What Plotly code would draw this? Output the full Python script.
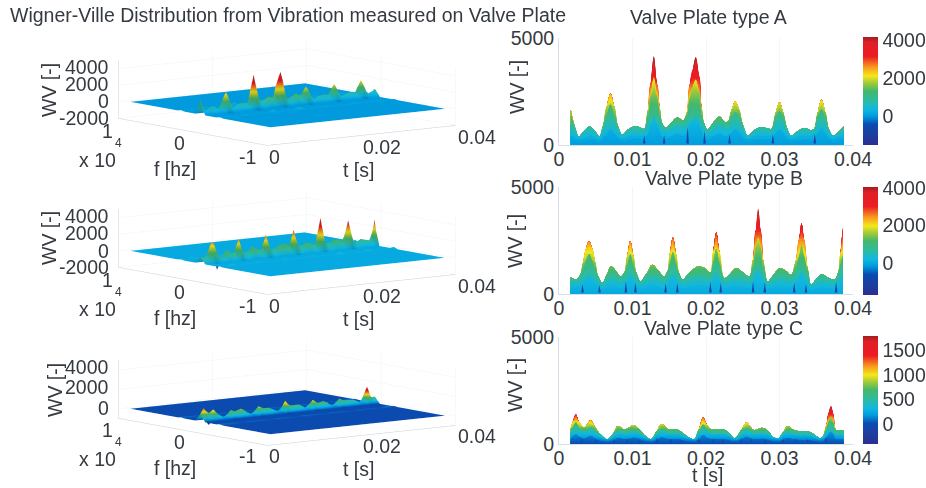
import plotly.graph_objects as go
from plotly.colors import sample_colorscale

W, H = 926, 488
FONT = "Liberation Sans"
INK = "#343a40"
FS = 19.5

JET = [[0.0, "#2b2f8f"], [0.1, "#1c3fa0"], [0.19, "#0a4cb0"], [0.27, "#009ede"], [0.33, "#10b7e0"],
       [0.41, "#2dbba2"], [0.5, "#45b86a"], [0.57, "#9cc93c"], [0.64, "#f6e71a"], [0.72, "#f79a1e"],
       [0.82, "#ec1c24"], [0.95, "#e01f26"], [1.0, "#9e1f20"]]

# time grids in ms, values in WV
A_t = [1.6,2.1,2.7,3.4,4.1,4.8,5.5,6.0,6.5,7.0,7.5,8.0,8.6,9.4,10.2,11.0,11.6,12.1,12.5,12.9,13.3,13.7,14.0,14.5,15.3,16.1,16.9,17.4,17.8,18.2,18.6,19.0,19.4,19.7,20.2,21.0,21.8,22.6,23.0,23.5,24.0,24.5,25.0,25.7,26.6,27.5,28.3,28.9,29.5,30.0,30.5,31.0,31.6,32.5,33.4,34.2,34.7,35.2,35.7,36.2,36.7,37.3,38.0,38.7]
A_outer = [1650,900,400,650,870,700,400,900,1800,2400,1800,900,480,720,870,830,750,1600,2900,4150,2900,1700,1050,800,1050,1300,1150,1500,2800,3500,4100,3300,1700,1050,720,1050,1330,1080,1100,1650,2030,1650,950,430,700,840,780,750,1500,2000,1500,800,430,650,790,700,750,1500,2110,1550,750,430,600,870]
A_mid = [1000,500,250,350,500,400,250,650,1350,1880,1350,650,300,450,550,520,500,1100,2300,3170,2300,1300,800,600,800,1000,850,1200,2200,2700,3050,2500,1350,800,480,750,1000,800,800,1250,1550,1250,700,280,450,550,500,500,1150,1570,1150,550,280,420,520,450,500,1150,1650,1200,500,280,400,600]
A_low = [400,250,120,180,250,200,120,300,550,750,550,300,120,220,300,280,260,500,950,1300,950,600,380,280,400,520,420,600,1000,1150,1300,1050,620,380,220,380,520,400,400,600,750,600,320,120,220,280,250,250,550,750,550,250,120,200,260,220,250,550,780,560,250,120,180,300]
A_spike_t = [11.6,14.3,17.5,19.8,23.2,29.1,34.8]
A_spike_h = [450,450,850,650,500,520,550]
A_dip_t = [7.0,12.9,18.6,24.0,30.0,35.7]
A_dip_z = [-700,-1000,-1000,-700,-700,-800]

B_t = [1.6,2.3,2.9,3.3,3.7,4.1,4.5,4.9,5.3,5.9,6.5,7.05,7.7,8.4,8.9,9.3,9.7,10.1,10.5,11.1,11.9,12.7,13.5,14.3,14.8,15.1,15.5,15.9,16.3,16.8,17.6,18.4,18.9,19.8,20.6,21.0,21.4,21.8,22.5,23.3,24.1,24.9,25.9,26.4,26.8,27.1,27.4,27.8,28.4,29.2,30.0,30.8,31.6,32.2,32.7,33.0,33.3,33.8,34.3,35.0,35.7,36.5,37.5,38.0,38.3,38.6]
B_outer = [780,670,900,1500,2150,2480,2150,1500,850,510,900,1290,1100,820,1000,1800,2480,1800,1000,590,950,1370,1100,820,1100,1900,2640,1900,1000,670,950,1200,1290,1210,1000,2000,2890,2000,745,950,1210,1050,820,1600,3000,3980,3000,1500,590,900,1210,1100,900,1500,2600,3310,2600,1200,435,700,930,780,670,1000,1900,3100]
B_mid = [550,480,650,1050,1550,1860,1550,1050,600,330,600,850,720,560,720,1300,1850,1300,720,400,650,900,750,560,780,1400,1950,1400,720,450,650,820,860,820,700,1450,2100,1450,520,650,820,720,560,1150,2200,2650,2200,1050,400,620,820,750,620,1050,1800,2300,1800,850,300,480,630,530,450,700,1350,1800]
B_low = [300,280,350,500,700,850,700,500,300,180,280,420,350,260,350,600,850,600,350,200,320,450,360,260,370,650,900,650,350,220,320,400,420,400,340,650,950,650,260,320,400,350,270,550,1000,1150,1000,500,200,300,400,360,300,500,850,1050,850,420,150,230,310,260,220,340,650,850]
B_spike_t = [3.2,5.5,9.1,10.4,14.5,16.1,20.6,22.0,26.4,28.0,32.0,33.6,37.7]
B_spike_h = [450,420,580,520,500,520,580,520,580,550,520,450,580]
B_dip_t = [4.1,9.7,15.5,21.4,27.1,33.0]
B_dip_z = [-800,-800,-800,-900,-1000,-900]

C_t = [1.6,1.9,2.3,2.7,3.4,3.9,4.3,4.8,5.5,6.6,7.4,8.0,8.9,9.6,10.2,10.9,11.6,12.5,13.3,13.9,14.5,15.0,16.1,16.9,17.5,18.4,19.0,19.6,20.2,20.7,21.6,22.5,23.2,23.9,24.9,25.5,26.0,26.5,27.7,28.5,29.1,29.8,30.5,31.1,31.7,32.3,33.2,34.1,34.9,35.5,35.9,36.4,36.7,37.0,37.3,37.7,38.7]
C_outer = [730,1050,1380,1050,780,950,1120,850,500,220,500,840,680,780,885,700,420,220,600,930,800,680,680,500,340,220,650,1240,850,680,680,680,500,260,700,1010,820,650,760,600,340,260,550,840,700,620,600,575,400,260,340,900,1450,1770,1400,650,650]
C_mid = [500,750,1000,750,520,680,800,600,320,150,320,580,450,520,600,470,280,150,400,650,550,450,450,330,220,150,430,900,600,450,450,450,330,170,470,720,560,430,510,400,220,170,370,580,470,410,400,380,260,170,220,620,1050,1300,1000,430,430]
C_low = [250,350,450,350,250,320,380,280,150,70,150,280,220,250,290,230,130,70,190,300,260,220,220,160,110,70,210,420,280,220,220,220,160,80,230,340,270,210,250,190,110,80,180,280,230,200,190,180,130,80,110,300,480,600,470,210,210]
C_spike_t = [3.1,5.0,7.5,9.3,11.0,13.3,15.2,16.5,19.0,21.0,22.3,24.8,26.2,28.0,30.5,32.3,33.8,36.3]
C_spike_h = [280,220,250,260,200,280,260,220,280,260,240,280,260,220,270,240,230,300]
C_dip_t = [2.3,8.0,13.9,19.6,25.5,31.1]
C_dip_z = [-300,-200,-200,-200,-200,-200]

F_TICKS = [-10000, 0, 10000]
T_TICKS = [0, 0.02, 0.04]
Z_TICKS_3D = [[-2000, 0, 2000, 4000], [-2000, 0, 2000, 4000], [0, 2000, 4000]]
Z_RANGE_3D = [[-2000, 5000], [-2000, 5000], [-1000, 5000]]
C_RANGE = [[-1510, 4140], [-1710, 4050], [-413, 1790]]
CB_TICKS = [[0, 2000, 4000], [0, 2000, 4000], [0, 500, 1000, 1500]]
TITLES = ["Valve Plate type A", "Valve Plate type B", "Valve Plate type C"]
RIGHT_Y = [(38, 145), (187, 294), (337, 444)]
CB_Y = [(37, 145), (187, 295), (336, 444)]
TITLE_POS = [(708, 17), (724, 178), (723, 328)]
WV_POS = [(517, 87), (515, 241), (515, 385)]
F_EDGE = 9400

PANELS = [
    (A_t, A_outer, A_mid, A_low, A_spike_t, A_spike_h, A_dip_t, A_dip_z),
    (B_t, B_outer, B_mid, B_low, B_spike_t, B_spike_h, B_dip_t, B_dip_z),
    (C_t, C_outer, C_mid, C_low, C_spike_t, C_spike_h, C_dip_t, C_dip_z),
]

fig = go.Figure()
annotations = []


def px(x):
    return x / W


def py(y):
    return 1 - y / H


def label(text, x, y, size=FS, angle=0, anchor="center"):
    annotations.append(dict(text=text, x=px(x), y=py(y), xref="paper", yref="paper", showarrow=False,
                            font=dict(family=FONT, size=size, color=INK), textangle=angle,
                            xanchor=anchor, yanchor="middle", xshift=0, yshift=0))


def color_at(v, rng):
    u = min(1, max(0, (v - rng[0]) / (rng[1] - rng[0])))
    return sample_colorscale(JET, [u])[0]


def add_layer(t, values, factor, rng, step, xa, ya):
    top = max(values)
    n = int(top / step) + 1
    for k in range(n, 0, -1):
        lev = k * step
        fig.add_trace(go.Scatter(
            x=t, y=[min(v, lev) for v in values], mode="lines", fill="tozeroy",
            line=dict(width=0, shape="spline", smoothing=1.0),
            fillcolor=color_at((lev - step / 2) * factor, rng),
            xaxis=xa, yaxis=ya, hoverinfo="skip", showlegend=False))


SCENE_H = 148
SCENE_W = 370
CUBE_CENTER = [(286.5, 92.5), (286.5, 241.5), (286.5, 392.5)]
R = 4.0
ASPECT = 3.2

for i, (t_ms, outer, mid, low, sp_t, sp_h, dip_t, dip_z) in enumerate(PANELS):
    t = [v / 1000 for v in t_ms]
    rng = C_RANGE[i]
    # ---------- left: 3D surface
    dip_row = [0] * len(t_ms)
    for dt, dz in zip(dip_t, dip_z):
        dip_row[t_ms.index(dt)] = dz
    zero = [0] * len(t_ms)
    faint = [v * 0.25 for v in low]
    f_rows = [-F_EDGE, -3100, -2600, -2100, -1000, -650, -450, -200, 0, 200, 450, 700, 2100, 2600, 3100, F_EDGE]
    z_rows = [zero, zero, faint, zero, zero, dip_row, low, mid, outer, mid, low, zero, zero, faint, zero, zero]
    scene = "scene" if i == 0 else f"scene{i + 1}"
    cb_top, cb_bot = CB_Y[i]
    fig.add_trace(go.Surface(
        x=t, y=f_rows, z=z_rows, scene=scene, colorscale=JET, cmin=rng[0], cmax=rng[1],
        lighting=dict(ambient=0.85, diffuse=0.2, specular=0.05, roughness=0.9),
        hoverinfo="skip",
        colorbar=dict(x=px(863), xanchor="left", xpad=0, y=py((cb_top + cb_bot) / 2), yanchor="middle", ypad=0,
                      len=cb_bot - cb_top, lenmode="pixels", thickness=15, thicknessmode="pixels",
                      tickvals=CB_TICKS[i], ticks="", outlinewidth=0,
                      tickfont=dict(family=FONT, size=FS, color=INK))))
    cx, cy = CUBE_CENTER[i]
    axis = dict(showbackground=False, gridcolor="#f1f3f7", gridwidth=1, showline=True, linecolor="#c9ced6",
                zeroline=False, showspikes=False, showticklabels=False, ticks="", title=dict(text=""))
    layout_scene = dict(
        domain=dict(x=[px(cx - SCENE_W / 2), px(cx + SCENE_W / 2)], y=[py(cy + SCENE_H / 2), py(cy - SCENE_H / 2)]),
        aspectmode="manual", aspectratio=dict(x=ASPECT, y=1.035 * ASPECT, z=0.247 * ASPECT),
        camera=dict(projection=dict(type="orthographic"), up=dict(x=0, y=0, z=1), center=dict(x=0, y=0, z=0),
                    eye=dict(x=-0.60 * R, y=-0.786 * R, z=0.1386 * R)),
        xaxis=dict(axis, range=[0, 0.04], tickvals=T_TICKS),
        yaxis=dict(axis, range=[-10000, 10000], tickvals=F_TICKS),
        zaxis=dict(axis, range=Z_RANGE_3D[i], tickvals=Z_TICKS_3D[i]),
    )
    fig.update_layout({scene: layout_scene})

    # ---------- right: side view of the same ridges
    xa = f"x{i + 1}" if i else "x"
    ya = f"y{i + 1}" if i else "y"
    step = (rng[1] - rng[0]) / 40
    add_layer(t, outer, 1.0, rng, step, xa, ya)
    add_layer(t, mid, 0.68, rng, step, xa, ya)
    add_layer(t, low, 0.32, rng, step, xa, ya)
    sx, sy = [], []
    for a, b in zip(sp_t, sp_h):
        sx += [(a - 0.18) / 1000, a / 1000, (a + 0.18) / 1000, None]
        sy += [70, b, 70, None]
    fig.add_trace(go.Scatter(x=sx, y=sy, mode="lines", fill="toself", line=dict(width=0),
                             fillcolor="#1c44a8", xaxis=xa, yaxis=ya, hoverinfo="skip", showlegend=False))
    top, bot = RIGHT_Y[i]
    tickfont = dict(family=FONT, size=FS, color=INK)
    fig.update_layout({
        ("xaxis" if i == 0 else f"xaxis{i + 1}"): dict(
            domain=[px(559), px(853)], range=[0, 0.04], anchor=ya, tickvals=[0, 0.01, 0.02, 0.03, 0.04],
            ticktext=["0", "0.01", "0.02", "0.03", "0.04"], tickfont=tickfont, showgrid=True, gridcolor="#f3f5f8",
            showline=True, linecolor="#d8dde6", mirror=False, zeroline=False, ticks="", ticklen=0,
            ticklabelstandoff=-3),
        ("yaxis" if i == 0 else f"yaxis{i + 1}"): dict(
            domain=[py(bot), py(top)], range=[0, 5000], anchor=xa, tickvals=[0, 5000], tickfont=tickfont,
            showgrid=False, showline=True, linecolor="#d8dde6", zeroline=False, ticks="", ticklen=0),
    })
    label(TITLES[i], TITLE_POS[i][0], TITLE_POS[i][1])
    label("WV [-]", WV_POS[i][0], WV_POS[i][1], angle=-90)

    # ---------- left panel text
    dy = [0, 149, 299][i]
    for v, ypos in zip(Z_TICKS_3D[i], {0: [118, 101, 84, 67], 1: [267, 251, 233, 216], 2: [408, 387, 367]}[i]):
        label(str(v), 111, ypos, anchor="right")
    label("WV [-]", 49 if i < 2 else 55, [90, 238, 390][i], angle=-90)
    for txt, x, y in [("1", 107, 131), ("0", 179, 143), ("-1", 247, 157), ("x 10", 97, 160), ("f [hz]", 175, 169),
                      ("0", 274, 157), ("0.02", 382, 147), ("0.04", 477, 137), ("t [s]", 358, 170)]:
        label(txt, x, y + dy)
    label("4", 118, 143 + dy, size=12)

label("t [s]", 707, 475)
label("Wigner-Ville Distribution from Vibration measured on Valve Plate", 288, 15)

fig.update_layout(width=W, height=H, margin=dict(l=0, r=0, t=0, b=0, autoexpand=False), paper_bgcolor="white", plot_bgcolor="white",
                  showlegend=False, annotations=annotations, font=dict(family=FONT, color=INK))
fig.write_html("out.html", config=dict(displayModeBar=False),
               post_script="document.body.style.margin='0';document.documentElement.style.overflow='hidden';")
